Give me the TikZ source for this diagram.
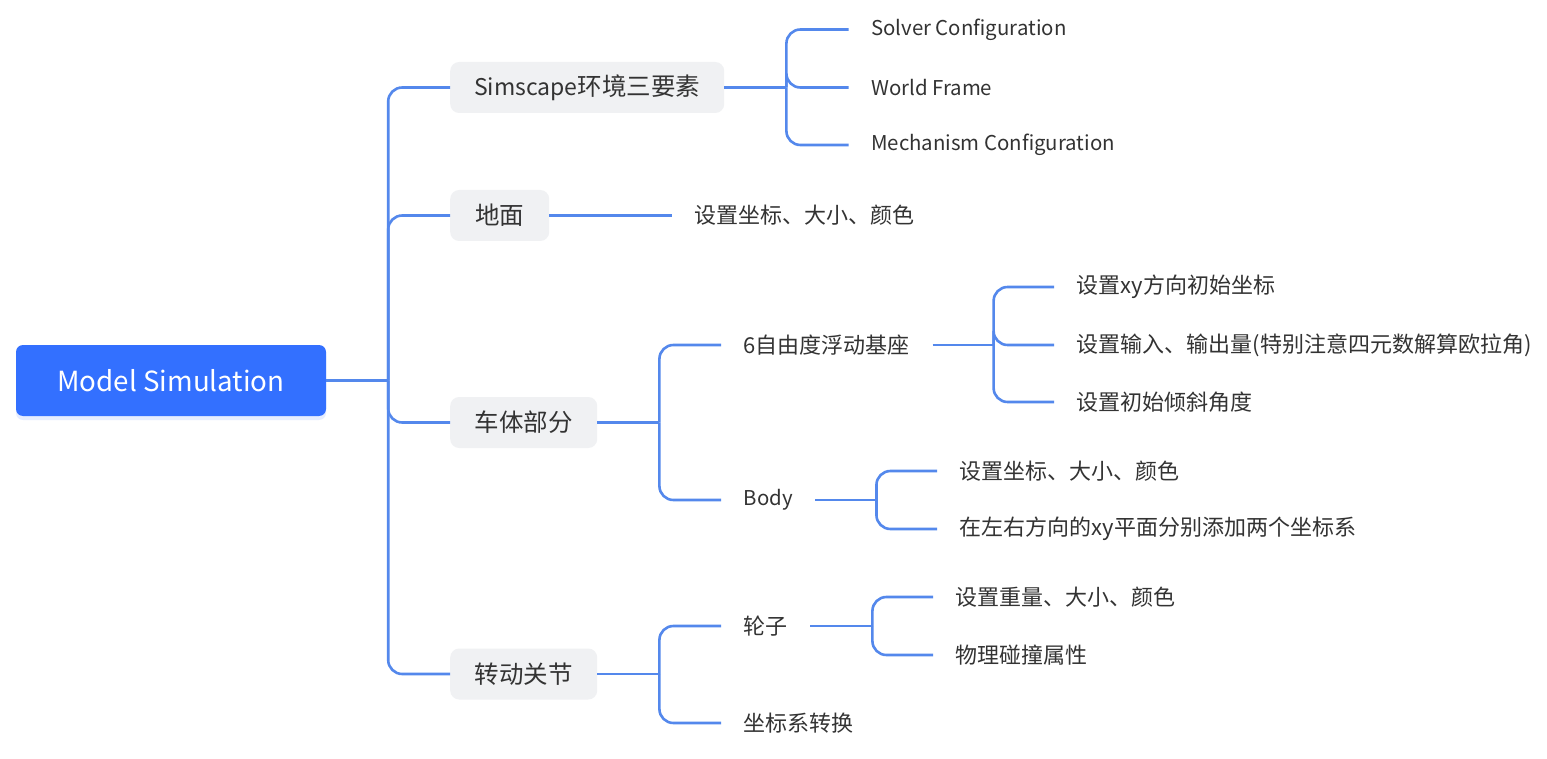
\documentclass[tikz,border=0pt]{standalone}
\usepackage{fontspec}
\setmainfont{Noto Sans CJK SC}
\usetikzlibrary{shadows,calc}
\definecolor{rootblue}{RGB}{51,112,255}
\definecolor{linkblue}{RGB}{84,136,236}
\definecolor{boxgrey}{RGB}{240,241,243}
\definecolor{txt}{RGB}{51,51,51}
\tikzset{
  conn/.style={draw=linkblue,line width=2.6pt,rounded corners=14pt},
  rootbox/.style={fill=rootblue,text=white,rounded corners=7pt,minimum width=310pt,minimum height=71pt,
     font=\fontsize{27.7}{32}\selectfont,inner sep=0pt,
     drop shadow={opacity=0.12,fill=rootblue,shadow xshift=0pt,shadow yshift=-4pt}},
  l1box/.style={fill=boxgrey,text=txt,rounded corners=9pt,minimum height=51pt,inner xsep=0pt,inner ysep=0pt,
     font=\fontsize{24.5}{28}\selectfont,anchor=west},
  leaf/.style={text=txt,inner xsep=22.5pt,inner ysep=2pt,font=\fontsize{22}{26}\selectfont,anchor=west},
  leaflat/.style={leaf,font=\fontsize{20.4}{24}\selectfont},
}
\begin{document}
\begin{tikzpicture}[x=1pt,y=-1pt]
\useasboundingbox[fill=white] (0,0) rectangle (1547,759);
% root
\node[rootbox] (root) at (171,380.5) {Model Simulation};
% level 1
\node[l1box,minimum width=274pt] (sim) at (450,87.5) {{\fontsize{23}{28}\selectfont Simscape}环境三要素};
\node[l1box,minimum width=99pt] (gnd) at (450,215.5) {地面};
\node[l1box,minimum width=147pt] (car) at (450,422.5) {车体部分};
\node[l1box,minimum width=147pt] (jnt) at (450,674) {转动关节};
% Simscape children
\node[leaflat] (solver) at (848.5,29.5) {Solver Configuration};
\node[leaflat] (world) at (848.5,87.5) {World Frame};
\node[leaflat] (mech) at (848.5,145) {Mechanism Configuration};
% ground child
\node[leaf] (gset) at (671.5,215.5) {设置坐标、大小、颜色};
% car children
\node[leaf] (six) at (721,345) {6自由度浮动基座};
\node[leaflat] (body) at (721,500) {Body};
\node[leaf] (sixa) at (1054,287) {设置xy方向初始坐标};
\node[leaf] (sixb) at (1054,345) {设置输入、输出量(特别注意四元数解算欧拉角)};
\node[leaf] (sixc) at (1054,402) {设置初始倾斜角度};
\node[leaf] (bodya) at (937,471) {设置坐标、大小、颜色};
\node[leaf] (bodyb) at (937,529) {在左右方向的xy平面分别添加两个坐标系};
% joint children
\node[leaf] (wheel) at (721,626) {轮子};
\node[leaf] (coord) at (721,723) {坐标系转换};
\node[leaf] (wheela) at (933,597) {设置重量、大小、颜色};
\node[leaf] (wheelb) at (933,655) {物理碰撞属性};
% trunks
\path (root.east) ++(62,0) coordinate (t0);
\path (sim.east) ++(62,0) coordinate (t1);
\path (car.east) ++(62,0) coordinate (t2);
\path (six.east) ++(61,0) coordinate (t3);
\path (body.east) ++(61,0) coordinate (t4);
\path (jnt.east) ++(62,0) coordinate (t5);
\path (wheel.east) ++(62,0) coordinate (t6);
% connectors
\draw[conn] (root.east) -- (t0);
\foreach \c in {sim,gnd,car,jnt} \draw[conn] (t0) |- (\c.west);
\draw[conn] (sim.east) -- (t1);
\foreach \c in {solver,world,mech} \draw[conn] (t1) |- (\c.west);
\draw[conn] (gnd.east) -- (gset.west);
\draw[conn] (car.east) -- (t2);
\foreach \c in {six,body} \draw[conn] (t2) |- (\c.west);
\draw[conn] (six.east) -- (t3);
\foreach \c in {sixa,sixb,sixc} \draw[conn] (t3) |- (\c.west);
\draw[conn] (body.east) -- (t4);
\foreach \c in {bodya,bodyb} \draw[conn] (t4) |- (\c.west);
\draw[conn] (jnt.east) -- (t5);
\foreach \c in {wheel,coord} \draw[conn] (t5) |- (\c.west);
\draw[conn] (wheel.east) -- (t6);
\foreach \c in {wheela,wheelb} \draw[conn] (t6) |- (\c.west);
\end{tikzpicture}
\end{document}
